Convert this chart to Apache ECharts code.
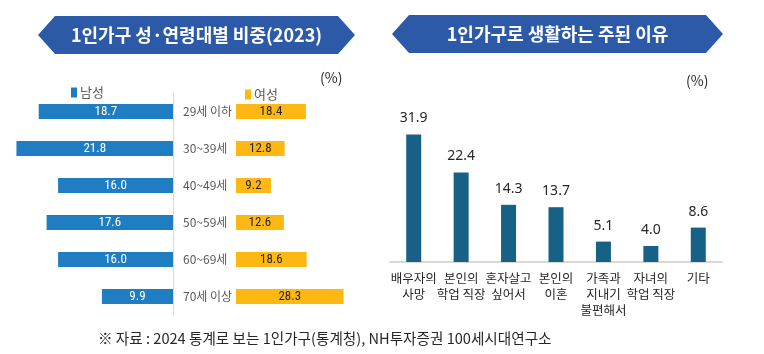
<!DOCTYPE html>
<html><head><meta charset="utf-8">
<script src="https://cdn.jsdelivr.net/npm/echarts@6/dist/echarts.min.js"></script>
<style>html,body{margin:0;padding:0;background:#fff}#c{width:764px;height:354px}</style>
</head><body><div id="c"></div>
<script>
const ageGroups = ['29세 이하','30~39세','40~49세','50~59세','60~69세','70세 이상'];
const maleShare = [18.7, 21.8, 16.0, 17.6, 16.0, 9.9];
const femaleShare = [18.4, 12.8, 9.2, 12.6, 18.6, 28.3];
const reasons = ['배우자의\n사망','본인의\n학업 직장','혼자살고\n싶어서','본인의\n이혼','가족과\n지내기\n불편해서','자녀의\n학업 직장','기타'];
const reasonShare = [31.9, 22.4, 14.3, 13.7, 5.1, 4.0, 8.6];

const KF = '"Noto Sans CJK KR", "Noto Sans", sans-serif';
const NF = '"Liberation Sans Narrow", "Roboto Condensed", "Noto Sans CJK KR", sans-serif';
const chart = echarts.init(document.getElementById('c'), null, {renderer:'canvas'});

function banner(x1, x2, y1, y2, inset, text) {
  const ym = (y1 + y2) / 2;
  return [
    {type:'polygon', shape:{points:[[x1,ym],[x1+inset,y1],[x2-inset,y1],[x2,ym],[x2-inset,y2],[x1+inset,y2]]},
     style:{fill:'#2C5AA8'}},
    {type:'text', x:(x1+x2)/2, y:ym, style:{text:text, fill:'#fff', font:'bold 18px ' + KF, textAlign:'center', textVerticalAlign:'middle'}}
  ];
}

const option = {
  animation:false,
  graphic:[
    ...banner(38, 355, 16, 54, 17, '1인가구 성·연령대별 비중(2023)'),
    ...banner(392, 723, 15, 53, 17, '1인가구로 생활하는 주된 이유'),
    {type:'text', x:320, y:71, style:{text:'(%)', fill:'#262626', font:'14px ' + KF}},
    {type:'text', x:686, y:74, style:{text:'(%)', fill:'#262626', font:'14px ' + KF}},
    {type:'text', x:98, y:331, style:{text:'※ 자료 : 2024 통계로 보는 1인가구(통계청), NH투자증권 100세시대연구소', fill:'#262626', font:'14.6px ' + KF}}
  ],
  legend:[
    {data:['남성'], left:66, top:81, itemWidth:6, itemHeight:10, itemGap:4, icon:'rect',
     textStyle:{color:'#595959', fontSize:13, fontFamily:KF, padding:[0,0,0,-2]}},
    {data:['여성'], left:240, top:83, itemWidth:6, itemHeight:10, icon:'rect',
     textStyle:{color:'#595959', fontSize:13, fontFamily:KF, padding:[0,0,0,-2]}}
  ],
  grid:[
    {left:15, right:591, top:93, bottom:39},
    {left:236, right:414, top:93, bottom:39},
    {left:390, right:42, top:102, bottom:92}
  ],
  xAxis:[
    {gridIndex:0, type:'value', min:0, max:22, inverse:true, show:false},
    {gridIndex:1, type:'value', min:0, max:30, show:false},
    {gridIndex:2, type:'category', data:reasons,
     axisLine:{lineStyle:{color:'#D9D9D9', width:2}}, axisTick:{show:false},
     axisLabel:{interval:0, color:'#262626', fontSize:12.5, fontFamily:KF, lineHeight:16, margin:8}}
  ],
  yAxis:[
    {gridIndex:0, type:'category', data:ageGroups, inverse:true, position:'right',
     axisLine:{lineStyle:{color:'#D9D9D9'}}, axisTick:{inside:true, length:3, lineStyle:{color:'#D9D9D9'}},
     axisLabel:{color:'#595959', fontSize:12, fontFamily:KF, margin:10, align:'left'}},
    {gridIndex:1, type:'category', data:ageGroups, inverse:true, show:false},
    {gridIndex:2, type:'value', min:0, max:40, show:false}
  ],
  series:[
    {name:'남성', type:'bar', xAxisIndex:0, yAxisIndex:0, data:maleShare, barWidth:15,
     itemStyle:{color:'#1F7EC1'},
     label:{show:true, position:'inside', color:'#fff', fontSize:13, fontFamily:NF, formatter:p=>p.value.toFixed(1)}},
    {name:'여성', type:'bar', xAxisIndex:1, yAxisIndex:1, data:femaleShare, barWidth:15,
     itemStyle:{color:'#FDB813'},
     label:{show:true, position:'inside', color:'#262626', fontSize:13, fontFamily:NF, formatter:p=>p.value.toFixed(1)}},
    {name:'이유', type:'bar', xAxisIndex:2, yAxisIndex:2, data:reasonShare, barWidth:15,
     itemStyle:{color:'#176086'},
     label:{show:true, position:'top', distance:9, color:'#262626', fontSize:14, fontFamily:'"Noto Sans", sans-serif', formatter:p=>p.value.toFixed(1)}}
  ]
};
chart.setOption(option);
</script></body></html>
